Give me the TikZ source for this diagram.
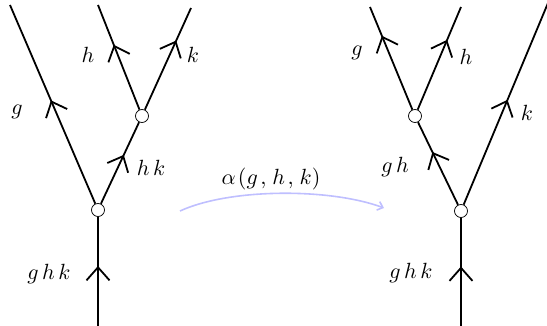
\documentclass[tikz,border=0pt]{standalone}
\usetikzlibrary{decorations.markings,arrows.meta}
\tikzset{
  px/.style={x=1pt,y=-1pt},
  wire/.style={line width=1.8pt},
  vtx/.style={circle,draw,fill=white,line width=0.7pt,minimum size=13pt,inner sep=0pt},
  lab/.style={scale=2.2,inner sep=0pt},
  mid/.style={postaction={decorate},decoration={markings,mark=at position #1 with {\arrow[line width=1.8pt]{Straight Barb[length=13pt,width=23pt]}}}},
}
\newcommand\gk{\kern1.6pt}
\begin{document}
\begin{tikzpicture}[px]
\useasboundingbox (0,0) rectangle (547,326);
% left diagram
\coordinate (Lb) at (98,326);
\coordinate (Lg) at (10,5);
\coordinate (Lh) at (98,5);
\coordinate (Lk) at (191,8);
\node[vtx] (L1) at (98,210) {};
\node[vtx] (L2) at (142,116) {};
\draw[wire,mid=0.55] (Lb) -- (L1);
\draw[wire,mid=0.52] (L1) -- (Lg);
\draw[wire,mid=0.6] (L1) -- (L2);
\draw[wire,mid=0.62] (L2) -- (Lh);
\draw[wire,mid=0.68] (L2) -- (Lk);
\node[lab] (lg) at (17,112) {$g$};
\node[lab] (lh) at (88,55) {$h$};
\node[lab] (lk) at (193,55) {$k$};
\node[lab] (lhk) at (151,168) {$h\gk k$};
\node[lab] (lghk) at (49,274) {$g\gk h\gk k$};
% right diagram
\coordinate (Rb) at (461,326);
\coordinate (Rg) at (370,7);
\coordinate (Rh) at (461,7);
\coordinate (Rk) at (548,3);
\node[vtx] (R1) at (461,211) {};
\node[vtx] (R2) at (415,116) {};
\draw[wire,mid=0.55] (Rb) -- (R1);
\draw[wire,mid=0.64] (R1) -- (R2);
\draw[wire,mid=0.72] (R2) -- (Rg);
\draw[wire,mid=0.68] (R2) -- (Rh);
\draw[wire,mid=0.52] (R1) -- (Rk);
\node[lab] (rg) at (357,53) {$g$};
\node[lab] (rh) at (466,57) {$h$};
\node[lab] (rk) at (527,113) {$k$};
\node[lab] (rgh) at (395,167) {$g\gk h$};
\node[lab] (rghk) at (411,273) {$g\gk h\gk k$};
% transformation arrow
\coordinate (As) at (180,211);
\coordinate (Ae) at (384,208);
\draw[blue!25,line width=1.6pt,-{Straight Barb[length=5pt,width=9pt]}] (As) .. controls (230,188) and (330,188) .. (Ae);
\node[lab] (alpha) at (271,179) {$\alpha\kern1pt(g\kern1.2pt,\kern1pt h\kern1.2pt,\kern1pt k)$};
\end{tikzpicture}
\end{document}
